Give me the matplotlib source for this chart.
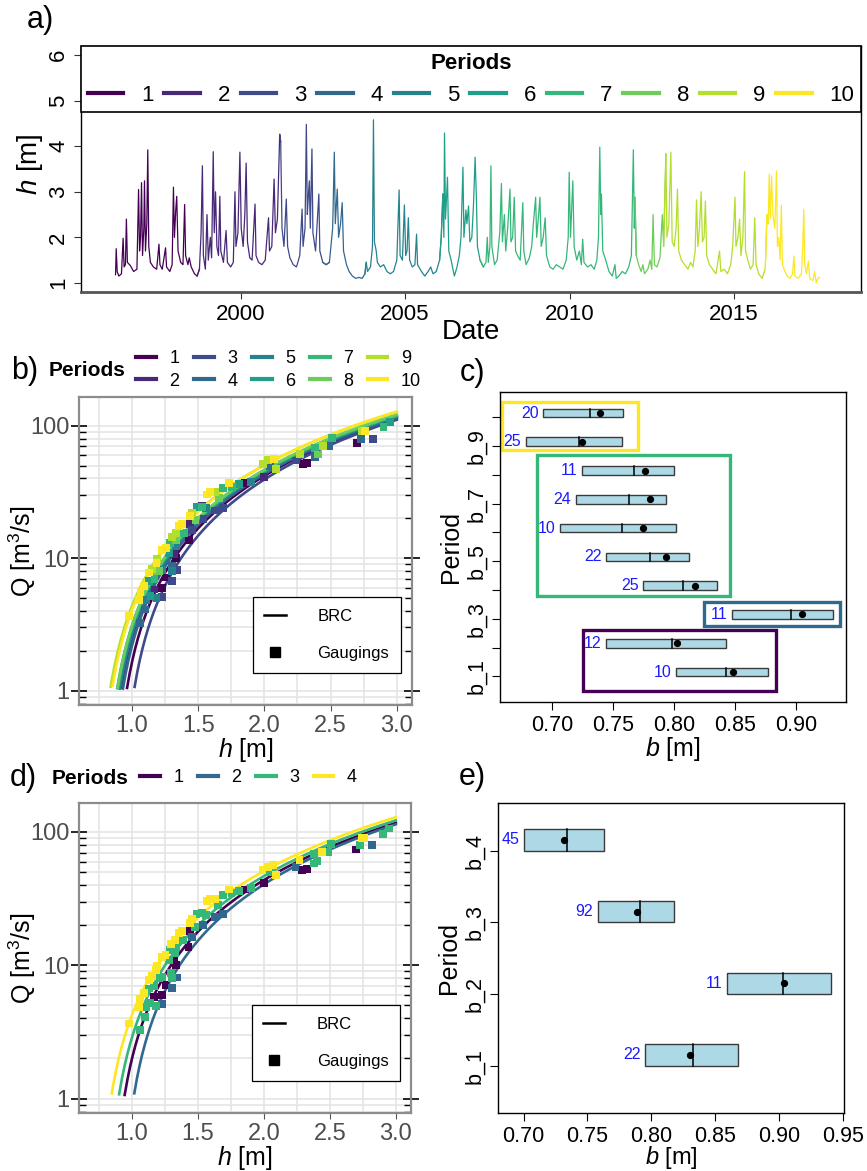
import numpy as np
import matplotlib
matplotlib.use('Agg')
import matplotlib.pyplot as plt
from matplotlib.lines import Line2D
from matplotlib.patches import Rectangle
from matplotlib.ticker import MultipleLocator, LogLocator, NullFormatter

plt.rcParams['font.family'] = ['Liberation Sans', 'DejaVu Sans']
plt.rcParams['mathtext.fontset'] = 'custom'
plt.rcParams['mathtext.rm'] = 'Liberation Sans'
plt.rcParams['mathtext.it'] = 'Liberation Sans:italic'

viridis10 = ['#440154', '#482878', '#3E4A89', '#31688E', '#26828E',
             '#1F9E89', '#35B779', '#6DCD59', '#B4DE2C', '#FDE725']
viridis4 = ['#440154', '#31688E', '#35B779', '#FDE725']

# ---- panel a: stage record (decimal year, h in m)
ts_year = [1996.20, 1996.22, 1996.25, 1996.30, 1996.38, 1996.43, 1996.46, 1996.50, 1996.53, 1996.56,
           1996.65, 1996.75, 1996.85, 1996.90, 1996.93, 1996.96, 1996.99, 1997.02, 1997.06, 1997.08,
           1997.11, 1997.15, 1997.18, 1997.21, 1997.26, 1997.35, 1997.45, 1997.52, 1997.55, 1997.62,
           1997.72, 1997.75, 1997.85, 1997.92, 1997.96, 1997.99, 1998.03, 1998.06, 1998.10, 1998.18,
           1998.25, 1998.30, 1998.33, 1998.40, 1998.44, 1998.50, 1998.60, 1998.68, 1998.75, 1998.80,
           1998.84, 1998.87, 1998.93, 1998.98, 1999.02, 1999.08, 1999.12, 1999.17, 1999.20, 1999.24,
           1999.28, 1999.33, 1999.37, 1999.40, 1999.48, 1999.56, 1999.60, 1999.70, 1999.78, 1999.83,
           1999.86, 1999.92, 1999.98, 2000.02, 2000.08, 2000.13, 2000.17, 2000.21, 2000.28, 2000.35,
           2000.44, 2000.47, 2000.55, 2000.65, 2000.75, 2000.85, 2000.88, 2000.95, 2001.02, 2001.06,
           2001.12, 2001.19, 2001.22, 2001.26, 2001.32, 2001.39, 2001.43, 2001.50, 2001.60, 2001.70,
           2001.80, 2001.87, 2001.90, 2001.96, 2002.00, 2002.03, 2002.06, 2002.09, 2002.12, 2002.17,
           2002.20, 2002.28, 2002.38, 2002.41, 2002.50, 2002.60, 2002.70, 2002.80, 2002.85, 2002.88,
           2002.94, 2002.98, 2003.04, 2003.09, 2003.13, 2003.22, 2003.30, 2003.40, 2003.50, 2003.60,
           2003.70, 2003.78, 2003.82, 2003.86, 2003.95, 2004.01, 2004.04, 2004.07, 2004.12, 2004.16,
           2004.25, 2004.35, 2004.45, 2004.55, 2004.65, 2004.75, 2004.82, 2004.85, 2004.92, 2004.98,
           2005.02, 2005.06, 2005.10, 2005.14, 2005.22, 2005.30, 2005.35, 2005.38, 2005.50, 2005.60,
           2005.70, 2005.78, 2005.85, 2005.95, 2006.05, 2006.10, 2006.15, 2006.18, 2006.20, 2006.23,
           2006.29, 2006.33, 2006.40, 2006.50, 2006.58, 2006.65, 2006.70, 2006.76, 2006.79, 2006.85,
           2006.88, 2006.93, 2006.97, 2007.03, 2007.08, 2007.13, 2007.17, 2007.20, 2007.28, 2007.38,
           2007.46, 2007.50, 2007.53, 2007.58, 2007.61, 2007.64, 2007.72, 2007.80, 2007.88, 2007.93,
           2007.96, 2008.02, 2008.06, 2008.12, 2008.19, 2008.22, 2008.27, 2008.32, 2008.36, 2008.42,
           2008.50, 2008.58, 2008.61, 2008.68, 2008.78, 2008.85, 2008.90, 2008.97, 2009.00, 2009.05,
           2009.10, 2009.14, 2009.20, 2009.26, 2009.30, 2009.40, 2009.50, 2009.60, 2009.70, 2009.80,
           2009.90, 2009.96, 2009.99, 2010.03, 2010.10, 2010.14, 2010.22, 2010.30, 2010.36, 2010.40,
           2010.44, 2010.55, 2010.65, 2010.75, 2010.83, 2010.88, 2010.92, 2010.95, 2010.97, 2011.01,
           2011.10, 2011.20, 2011.30, 2011.38, 2011.42, 2011.50, 2011.60, 2011.70, 2011.80, 2011.88,
           2011.94, 2011.97, 2011.99, 2012.03, 2012.10, 2012.18, 2012.23, 2012.28, 2012.38, 2012.45,
           2012.50, 2012.54, 2012.58, 2012.66, 2012.75, 2012.82, 2012.86, 2012.93, 2012.96, 2013.02,
           2013.08, 2013.12, 2013.18, 2013.24, 2013.28, 2013.32, 2013.40, 2013.50, 2013.60, 2013.68,
           2013.75, 2013.82, 2013.86, 2013.90, 2013.95, 2014.00, 2014.04, 2014.09, 2014.13, 2014.17,
           2014.25, 2014.35, 2014.45, 2014.56, 2014.60, 2014.70, 2014.80, 2014.90, 2014.96, 2015.03,
           2015.06, 2015.12, 2015.17, 2015.21, 2015.27, 2015.32, 2015.35, 2015.42, 2015.50, 2015.58,
           2015.63, 2015.67, 2015.75, 2015.85, 2015.95, 2016.00, 2016.04, 2016.07, 2016.10, 2016.14,
           2016.18, 2016.24, 2016.29, 2016.32, 2016.36, 2016.40, 2016.44, 2016.47, 2016.55, 2016.62,
           2016.70, 2016.78, 2016.82, 2016.85, 2016.95, 2017.05, 2017.09, 2017.12, 2017.15, 2017.20,
           2017.26, 2017.30, 2017.40, 2017.45, 2017.50, 2017.55, 2017.60]
ts_h = [1.18, 1.75, 1.25, 1.15, 1.20, 1.98, 1.35, 1.40, 2.40, 1.45,
        1.38, 1.25, 1.30, 3.05, 1.70, 2.00, 3.20, 1.60, 2.20, 3.24,
        1.70, 2.30, 3.92, 1.80, 1.45, 1.35, 1.30, 1.85, 1.40, 1.30,
        1.77, 1.35, 1.25, 1.40, 3.10, 2.00, 2.60, 2.90, 1.70, 1.45,
        1.40, 2.72, 1.60, 1.40, 1.55, 1.35, 1.20, 1.15, 1.30, 2.10,
        3.57, 1.60, 1.30, 2.50, 1.50, 2.00, 1.55, 3.88, 2.10, 3.00,
        1.80, 1.60, 2.90, 1.70, 1.45, 2.15, 1.45, 1.35, 1.45, 3.00,
        1.80, 2.10, 3.87, 2.20, 1.80, 2.50, 3.63, 1.90, 1.55, 1.50,
        2.73, 1.60, 1.45, 1.40, 1.50, 2.43, 1.70, 1.80, 3.28, 2.10,
        2.40, 4.26, 4.10, 2.20, 1.80, 2.84, 1.80, 1.55, 1.40, 1.35,
        1.60, 2.62, 1.80, 2.20, 4.48, 2.50, 2.90, 3.24, 2.20, 3.94,
        2.10, 1.70, 2.95, 1.70, 1.45, 1.40, 1.45, 2.20, 3.87, 2.30,
        3.06, 2.00, 2.30, 2.76, 1.70, 1.40, 1.25, 1.15, 1.10, 1.12,
        1.10, 1.20, 1.45, 1.25, 1.35, 1.80, 4.58, 1.90, 1.72, 1.45,
        1.35, 1.40, 1.25, 1.20, 1.25, 1.50, 3.04, 1.60, 1.50, 2.71,
        1.60, 1.70, 2.43, 1.50, 1.35, 1.40, 2.07, 1.40, 1.25, 1.15,
        1.25, 1.35, 1.20, 1.25, 1.50, 2.00, 2.95, 2.00, 4.29, 2.40,
        3.32, 1.70, 1.50, 1.15, 1.35, 1.60, 2.00, 3.54, 2.00, 2.60,
        2.30, 2.69, 1.90, 2.00, 2.70, 3.76, 2.84, 1.80, 1.50, 1.35,
        1.45, 2.00, 1.45, 1.80, 3.57, 1.80, 1.40, 1.50, 2.10, 3.18,
        1.90, 2.50, 1.70, 2.20, 3.06, 1.90, 2.00, 2.88, 1.70, 1.60,
        1.50, 2.76, 1.70, 1.40, 1.55, 1.80, 2.30, 2.88, 2.00, 2.40,
        2.88, 1.80, 2.00, 2.43, 1.60, 1.35, 1.30, 1.40, 1.35, 1.30,
        1.50, 2.00, 3.43, 2.00, 3.24, 1.80, 1.50, 1.70, 1.40, 1.96,
        1.45, 1.35, 1.40, 1.30, 1.50, 2.00, 3.98, 2.50, 2.95, 1.70,
        1.50, 1.25, 1.15, 1.40, 1.10, 1.15, 1.25, 1.20, 1.35, 1.60,
        3.92, 2.20, 2.88, 1.60, 1.40, 1.25, 1.40, 1.20, 1.30, 1.50,
        1.30, 2.50, 1.40, 1.35, 1.55, 2.50, 1.80, 3.83, 2.00, 2.30,
        3.87, 1.90, 1.80, 2.20, 3.06, 1.70, 1.50, 1.40, 1.30, 1.45,
        1.35, 1.70, 2.82, 1.80, 2.20, 3.00, 1.90, 2.00, 2.80, 1.60,
        1.40, 1.30, 1.20, 1.70, 1.25, 1.30, 1.20, 1.40, 1.80, 2.88,
        1.80, 2.00, 2.40, 1.60, 2.00, 3.44, 1.70, 1.50, 1.30, 1.40,
        2.43, 1.40, 1.20, 1.10, 1.30, 2.50, 2.30, 3.39, 2.40, 3.35,
        2.50, 2.20, 3.46, 1.80, 2.00, 1.50, 2.71, 1.40, 1.25, 1.15,
        1.10, 1.20, 1.59, 1.15, 1.10, 1.20, 1.80, 2.62, 1.40, 1.20,
        1.48, 1.10, 1.05, 1.25, 1.00, 1.10, 1.12]
period_breaks = [1996.2, 1998.7, 2001.2, 2002.6, 2003.8, 2006.1,
                 2007.3, 2012.0, 2012.9, 2016.0, 2017.6]

# ---- gaugings (h [m], Q [m3/s], period 1..10)
gaug_h = [1.17, 1.23, 1.255, 1.32, 1.335, 1.43, 1.44, 1.53, 1.855, 2.00, 2.29, 2.325, 2.70,
          1.23, 1.305, 1.34, 1.455, 1.54, 1.63, 1.69, 2.24, 2.82,
          1.06, 1.10, 1.105, 1.14, 1.185, 1.13, 1.17, 1.205, 1.23, 1.30, 1.305, 1.28, 1.29,
          1.335, 1.33, 1.39, 1.48, 1.49, 1.53, 1.56, 1.655, 1.69, 1.755, 1.81, 1.90, 2.04,
          2.38, 2.405, 2.38, 2.49, 2.51, 2.73, 2.90, 2.95,
          0.98, 1.055, 1.065, 1.09, 1.13, 1.15, 1.185, 1.19, 1.23, 1.255, 1.30, 1.33, 1.355,
          1.38, 1.44, 1.455, 1.5675, 1.59, 1.63, 1.735, 1.99, 2.03, 2.07, 2.09, 2.27, 2.44,
          2.74, 2.76]
gaug_q = [5.8, 6.0, 7.15, 10.7, 10.1, 13.8, 18.2, 24.8, 37.0, 41.1, 51.8, 52.4, 73.8,
          5.1, 6.75, 8.1, 16.4, 19.9, 22.9, 24.1, 54.7, 79.5,
          3.26, 4.1, 4.87, 5.2, 4.98, 6.7, 6.95, 8.0, 8.2, 8.7, 8.0, 11.0, 13.0,
          13.6, 12.3, 15.5, 19.3, 24.3, 24.5, 23.8, 28.3, 33.7, 34.7, 36.3, 37.7, 50.0,
          58.0, 60.7, 68.0, 70.8, 80.9, 79.5, 97.2, 106.0,
          3.66, 4.87, 5.58, 6.2, 7.8, 8.3, 9.25, 9.9, 11.6, 12.0, 14.5, 15.5, 17.4,
          18.2, 20.9, 22.1, 30.3, 31.6, 31.6, 37.0, 51.8, 54.8, 56.2, 47.4, 61.4, 70.8,
          90.7, 90.7]
gaug_p = [2, 1, 1, 2, 1, 1, 2, 2, 1, 2, 1, 1, 1,
          3, 3, 3, 3, 3, 3, 3, 3, 3,
          4, 4, 5, 6, 5, 6, 7, 8, 5, 4, 5, 6, 7,
          8, 5, 7, 8, 6, 7, 5, 8, 7, 7, 6, 5, 4,
          4, 8, 7, 4, 7, 4, 7, 6,
          10, 10, 10, 10, 10, 9, 10, 9, 10, 10, 9, 9, 10,
          10, 10, 9, 10, 10, 9, 10, 9, 9, 10, 9, 9, 9,
          9, 10]
group_of_period = [1, 1, 2, 3, 3, 3, 3, 3, 4, 4]

# ---- rating curves Q = a (h - b)^c
brc10_a = [33.4, 33.5, 34.0, 33.0, 33.0, 33.4, 33.2, 33.7, 34.1, 34.7]
brc10_b = [0.848, 0.802, 0.905, 0.817, 0.793, 0.774, 0.780, 0.776, 0.724, 0.739]
brc10_c = [1.6] * 10
brc4_a = [33.9, 34.9, 34.3, 34.8]
brc4_b = [0.831, 0.904, 0.789, 0.733]
brc4_c = [1.6] * 4

# ---- panel c: offset b per period
c_lo = [0.801, 0.744, 0.847, 0.774, 0.744, 0.706, 0.719, 0.724, 0.678, 0.692]
c_hi = [0.877, 0.842, 0.930, 0.835, 0.812, 0.801, 0.793, 0.800, 0.757, 0.758]
c_med = [0.842, 0.798, 0.896, 0.807, 0.780, 0.757, 0.763, 0.767, 0.722, 0.731]
c_mean = [0.848, 0.802, 0.905, 0.817, 0.793, 0.774, 0.780, 0.776, 0.724, 0.739]
c_n = [10, 12, 11, 25, 22, 10, 24, 11, 25, 20]
c_frame_x0 = [0.725, 0.824, 0.687, 0.659]
c_frame_x1 = [0.8836, 0.9358, 0.8456, 0.770]
c_frame_y0 = [0.48, 2.74, 3.78, 8.88]
c_frame_y1 = [2.61, 3.60, 8.68, 10.54]

# ---- panel e: offset b per merged period
e_lo = [0.795, 0.859, 0.758, 0.700]
e_hi = [0.868, 0.941, 0.818, 0.763]
e_med = [0.833, 0.903, 0.791, 0.734]
e_mean = [0.830, 0.904, 0.789, 0.732]
e_n = [22, 11, 92, 45]

W, H = 867, 1171
fig = plt.figure(figsize=(W / 100, H / 100), dpi=100)


def add_ax(l, t, r, b):
    return fig.add_axes([l / W, 1 - b / H, (r - l) / W, (b - t) / H])


def fig_xy(px, py):
    return px / W, 1 - py / H


# ================= panel a
ax_a = add_ax(81, 46, 861, 292)
yr = np.array(ts_year)
hv = np.array(ts_h)
for i in range(10):
    i0 = max(np.searchsorted(yr, period_breaks[i]) - 1, 0)
    i1 = np.searchsorted(yr, period_breaks[i + 1], side='right')
    ax_a.plot(yr[i0:i1 + 1], hv[i0:i1 + 1], color=viridis10[i], lw=0.9)
ax_a.set_xlim(1995.15, 2018.86)
ax_a.set_ylim(0.8, 6.2)
ax_a.set_xticks([2000, 2005, 2010, 2015])
ax_a.set_yticks([1, 2, 3, 4, 5, 6])
ax_a.tick_params(axis='both', direction='out', length=5, labelsize=16, color='#333333')
for lab in ax_a.get_yticklabels():
    lab.set_rotation(90)
    lab.set_va('center')
ax_a.set_xlabel('Date', fontsize=20, labelpad=-4)
ax_a.set_ylabel('$h$ [m]', fontsize=20)
ax_a.yaxis.set_label_coords(-0.046, 0.52)
for s in ['top', 'right', 'left']:
    ax_a.spines[s].set_linewidth(1.0)
ax_a.spines['bottom'].set_linewidth(2.0)
ax_a.spines['bottom'].set_color('#555555')
handles_a = [Line2D([0], [0], color=viridis10[i], lw=3) for i in range(10)]
leg_a = ax_a.legend(handles_a, [str(i + 1) for i in range(10)], ncol=10, mode='expand',
                    loc='upper center', bbox_to_anchor=(0, 0, 1, 1), borderaxespad=0,
                    title='Periods', fancybox=False, edgecolor='black', framealpha=1,
                    handlelength=1.6, handletextpad=0.8, borderpad=0.3, fontsize=16,
                    title_fontproperties={'size': 16, 'weight': 'bold'})
leg_a.get_frame().set_linewidth(1.2)
fig.text(*fig_xy(40, 20), 'a)', fontsize=22, ha='center', va='center')


# ================= panels b and d
def rating_panel(ax, a_vals, b_vals, c_vals, colors, point_groups):
    for i in range(len(a_vals)):
        hh = np.linspace(b_vals[i] + 0.115, 3.0, 200)
        ax.plot(hh, a_vals[i] * (hh - b_vals[i]) ** c_vals[i], color=colors[i], lw=1.9)
    order = np.argsort(point_groups, kind='stable')
    gh = np.array(gaug_h)[order]
    gq = np.array(gaug_q)[order]
    gc = [colors[point_groups[k] - 1] for k in order]
    ax.scatter(gh, gq, marker='s', s=32, c=gc, edgecolors='none', zorder=3)
    ax.set_yscale('log')
    ax.set_xlim(0.6, 3.115)
    ax.set_ylim(10 ** -0.108, 10 ** 2.217)
    ax.xaxis.set_minor_locator(MultipleLocator(0.25))
    ax.set_xticks([1.0, 1.5, 2.0, 2.5, 3.0])
    ax.set_yticks([1, 10, 100])
    ax.set_yticklabels(['1', '10', '100'])
    ax.yaxis.set_minor_locator(LogLocator(base=10, subs=range(2, 10)))
    ax.yaxis.set_minor_formatter(NullFormatter())
    ax.grid(True, which='both', color='#E3E3E3', lw=1.1)
    ax.set_axisbelow(True)
    ax.tick_params(axis='x', which='major', direction='out', length=4, color='#555555',
                   labelsize=17, labelcolor='#4D4D4D')
    ax.tick_params(axis='x', which='minor', length=0)
    ax.tick_params(axis='y', which='major', direction='inout', length=12, width=1.2, pad=1,
                   left=True, right=True, color='black', labelsize=17, labelcolor='#4D4D4D')
    ax.tick_params(axis='y', which='minor', direction='in', length=5, width=1.0,
                   left=True, right=True, color='black')
    for s in ax.spines.values():
        s.set_color('#8C8C8C')
        s.set_linewidth(1.6)
    ax.set_xlabel('$h$ [m]', fontsize=18, labelpad=-1)
    ax.set_ylabel('Q [m$^3$/s]', fontsize=18)
    ax.yaxis.set_label_coords(-0.123, 0.5)
    inner = [Line2D([0], [0], color='black', lw=1.8),
             Line2D([0], [0], marker='s', color='black', ls='none', ms=7)]
    lg = ax.legend(inner, ['BRC', 'Gaugings'], loc='lower right',
                   bbox_to_anchor=(0.967, 0.104), borderaxespad=0, fancybox=False,
                   edgecolor='black', framealpha=1, fontsize=12, handlelength=1.3,
                   handletextpad=1.9, labelspacing=1.35, borderpad=0.7)
    lg.get_frame().set_linewidth(0.9)


ax_b = add_ax(79, 397, 412, 705)
rating_panel(ax_b, brc10_a, brc10_b, brc10_c, viridis10, gaug_p)
fig.text(*fig_xy(25, 371), 'b)', fontsize=22, ha='center', va='center')
fig.text(*fig_xy(49, 371), 'Periods', fontsize=15, weight='bold', ha='left', va='center')
handles_b = [Line2D([0], [0], color=viridis10[i], lw=3) for i in range(10)]
fig.legend(handles_b, [str(i + 1) for i in range(10)], ncol=5, loc='center left',
           bbox_to_anchor=fig_xy(136, 370), frameon=False, fontsize=13, borderpad=0,
           borderaxespad=0, handlelength=1.1, handletextpad=0.75, columnspacing=0.8,
           labelspacing=0.3)

ax_d = add_ax(79, 803, 411, 1113)
gaug_g = [group_of_period[p - 1] for p in gaug_p]
rating_panel(ax_d, brc4_a, brc4_b, brc4_c, viridis4, gaug_g)
fig.text(*fig_xy(23, 778), 'd)', fontsize=22, ha='center', va='center')
fig.text(*fig_xy(52, 778), 'Periods', fontsize=15, weight='bold', ha='left', va='center')
handles_d = [Line2D([0], [0], color=viridis4[i], lw=3) for i in range(4)]
fig.legend(handles_d, [str(i + 1) for i in range(4)], ncol=4, loc='center left',
           bbox_to_anchor=fig_xy(140, 778), frameon=False, fontsize=13, borderpad=0,
           borderaxespad=0, handlelength=1.1, handletextpad=0.75, columnspacing=0.8)


# ================= panels c and e
def offset_panel(ax, lo, hi, med, mean, n, xpad, xsize):
    for i in range(len(lo)):
        row = i + 1
        ax.add_patch(Rectangle((lo[i], row), hi[i] - lo[i], 0.3, facecolor='#ADD8E6',
                               edgecolor='#3A3A3A', lw=1.0, zorder=2))
        ax.plot([med[i], med[i]], [row, row + 0.3], color='black', lw=1.1, zorder=3)
        ax.plot(mean[i], row + 0.15, 'o', color='black', ms=4.2, zorder=4)
        ax.text(lo[i] - 0.0035, row + 0.15, str(n[i]), color='#1a1aff', fontsize=11.5,
                ha='right', va='center')
    ax.tick_params(axis='both', direction='out', length=6, labelsize=15.5)
    for s in ax.spines.values():
        s.set_linewidth(1.0)
    ax.set_xlabel('$b$ [m]', fontsize=xsize, labelpad=xpad)
    ax.set_ylabel('Period', fontsize=18, labelpad=2)


ax_c = add_ax(500, 392, 846, 702)
offset_panel(ax_c, c_lo, c_hi, c_med, c_mean, c_n, -1, 18)
for k in range(4):
    ax_c.add_patch(Rectangle((c_frame_x0[k], c_frame_y0[k]), c_frame_x1[k] - c_frame_x0[k],
                             c_frame_y1[k] - c_frame_y0[k], fill=False,
                             edgecolor=viridis4[k], lw=2.4, zorder=1))
ax_c.set_xlim(0.657, 0.9407)
ax_c.set_ylim(0.108, 10.88)
ax_c.set_xticks([0.70, 0.75, 0.80, 0.85, 0.90])
ax_c.set_xticklabels(['0.70', '0.75', '0.80', '0.85', '0.90'])
ax_c.set_yticks(range(1, 11))
ax_c.set_yticklabels(['b_%d' % r if r % 2 == 1 else '' for r in range(1, 11)],
                     rotation=90, va='center')
fig.text(*fig_xy(472, 373), 'c)', fontsize=22, ha='center', va='center')

ax_e = add_ax(498, 803, 844, 1113)
offset_panel(ax_e, e_lo, e_hi, e_med, e_mean, e_n, -2.5, 17)
ax_e.set_xlim(0.680, 0.9508)
ax_e.set_ylim(0.34, 4.665)
ax_e.set_xticks([0.70, 0.75, 0.80, 0.85, 0.90, 0.95])
ax_e.set_xticklabels(['0.70', '0.75', '0.80', '0.85', '0.90', '0.95'])
ax_e.set_yticks(range(1, 5))
ax_e.set_yticklabels(['b_%d' % r for r in range(1, 5)], rotation=90, va='center')
fig.text(*fig_xy(472, 777), 'e)', fontsize=22, ha='center', va='center')

fig.savefig('out.png', dpi=100)
